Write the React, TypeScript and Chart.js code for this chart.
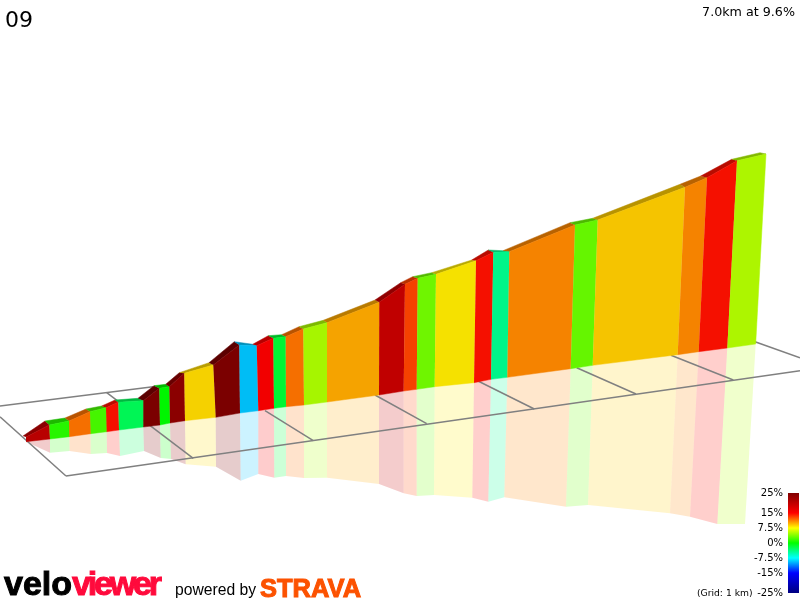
import { useEffect, useRef } from "react"
import { Chart, registerables } from "chart.js"

Chart.register(...registerables)

// gradient of each stretch of the climb, in %
const grades = [20, 1.2, 11.6, 2.1, 14.5, -2.6, 25, 0, 23.7, 8.6, 25, -9.2, 15.2, -1.6, 11.6, 5.1, 10, 19.3, 13, 3.4, 8.1, 14.5, -4.2, 11, 3.1, 9, 11, 14.5, 5.3]

// projected ridge and base of the wall
const frontX = [26, 49.3, 69, 90, 106, 118.3, 143.3, 159.3, 169.3, 184.3, 213.3, 239.3, 256.7, 273.3, 285.7, 303.3, 327, 379.3, 405, 417.7, 436, 476, 493.3, 509.3, 575, 597.7, 685, 707, 737, 766]
const frontY = [437, 425, 421, 411.7, 407.7, 402.3, 400.7, 388.3, 386.7, 373.3, 365, 345, 345.7, 338.3, 336.7, 329, 322.7, 302.3, 284.3, 278.3, 274.3, 260.7, 252.3, 251.7, 225, 220, 187.3, 177.7, 160.7, 154]
const backX = [23, 45, 65, 86, 101.7, 115, 138, 154, 165.7, 179.3, 209, 234.3, 252.7, 268.3, 281.7, 299, 323.3, 375, 400.7, 412.7, 431.7, 471.7, 488.3, 503, 570, 592.7, 680, 700.7, 731.7, 760]
const backY = [436, 421, 418, 409, 406, 400, 398.3, 385.7, 384.3, 372.7, 362.7, 341.7, 344.3, 335.7, 334.7, 326.7, 320.3, 300, 282.7, 276.7, 272.7, 260, 250, 250.7, 222.7, 218.3, 184.3, 176, 159.3, 152.7]
const baseX = [26, 50, 69.3, 90.7, 106.7, 119, 143.3, 160, 170, 185, 215.7, 240, 258.3, 274, 286, 304, 327, 379, 403.7, 416.7, 434.7, 474, 491, 507.3, 570.7, 592.7, 677.7, 698.7, 727.3, 755.7]
const baseY = [441.7, 439, 436.7, 433.7, 431.7, 430, 427, 425, 423, 420.7, 417.3, 413, 410.7, 408.3, 406.7, 405, 402, 395, 391, 389.3, 386.7, 382.7, 379.3, 377.3, 368.7, 365.3, 354.7, 351.7, 348, 344]
const mirrorX = [26, 50, 69.5, 90.7, 107, 120, 144, 160.7, 171, 185.7, 216, 240.7, 258.3, 274.3, 286, 304, 327, 379, 403.7, 416.7, 434, 472.3, 488.3, 504.3, 566, 588, 670, 690, 717.3, 745]
const mirrorY = [441.7, 452.7, 451, 454, 453, 456, 451, 458, 459, 464.3, 466.7, 480.7, 474, 477.7, 476, 478, 477.7, 484, 493.3, 496, 495, 497.7, 501.7, 497.3, 506.7, 505, 513.3, 516.7, 524, 524]

// floor grid, as [x1, y1, x2, y2]
const gridLines = [
  [0, 406, 153, 386.7],
  [0, 416.7, 66, 476],
  [66, 476, 800, 370.7],
  [106.7, 392.7, 193.3, 458.3],
  [265, 410.7, 313.3, 440.7],
  [375, 395, 426.7, 423.7],
  [478, 381, 534.3, 409],
  [576.7, 367.7, 636, 394],
  [671, 355.3, 733.3, 380],
  [755, 341.7, 800, 357.7],
]

// colour key
const keyTicks = [25, 15, 7.5, 0, -7.5, -15, -25]
const keyColours = ["#800000", "#ff0000", "#ffff00", "#00ff00", "#00ffff", "#0000ff", "#000080"]

function gradeRgb(grade: number) {
  const g = Math.max(-25, Math.min(25, grade))
  let i = 0
  while (i < keyTicks.length - 2 && g < keyTicks[i + 1]) i++
  const t = (keyTicks[i] - g) / (keyTicks[i] - keyTicks[i + 1])
  const hex = (c: string, k: number) => parseInt(c.slice(k, k + 2), 16)
  return [1, 3, 5].map((k) => hex(keyColours[i], k) + (hex(keyColours[i + 1], k) - hex(keyColours[i], k)) * t)
}

function rgb(grade: number, shade: number, alpha = 1) {
  const [r, g, b] = gradeRgb(grade).map((v) => Math.round(v * shade))
  return `rgba(${r}, ${g}, ${b}, ${alpha})`
}

function polygon(xs: number[], ys: number[], colour: string, edge = 0) {
  return {
    data: xs.map((x, i) => ({ x, y: ys[i] })),
    showLine: true,
    fill: "shape",
    backgroundColor: colour,
    borderColor: colour,
    borderWidth: edge,
    pointRadius: 0,
  }
}

function buildDatasets() {
  const mirror = grades.map((g, i) =>
    polygon([baseX[i], baseX[i + 1], mirrorX[i + 1], mirrorX[i]], [baseY[i], baseY[i + 1], mirrorY[i + 1], mirrorY[i]], rgb(g, 1, 0.2)),
  )
  const grid = gridLines.map(([x1, y1, x2, y2]) => ({
    data: [{ x: x1, y: y1 }, { x: x2, y: y2 }],
    showLine: true,
    fill: false,
    borderColor: "#808080",
    borderWidth: 1.5,
    pointRadius: 0,
  }))
  const tops = grades.map((g, i) =>
    polygon([backX[i], backX[i + 1], frontX[i + 1], frontX[i]], [backY[i], backY[i + 1], frontY[i + 1], frontY[i]], rgb(g, 0.72), 0.5),
  )
  const walls = grades.map((g, i) =>
    polygon([frontX[i], frontX[i + 1], baseX[i + 1], baseX[i]], [frontY[i], frontY[i + 1], baseY[i + 1], baseY[i]], rgb(g, 0.96), 0.5),
  )
  // chart.js paints the first dataset last
  return [...mirror, ...grid, ...tops, ...walls].reverse()
}

const textBase = { position: "absolute", fontFamily: "'DejaVu Sans', sans-serif", color: "#000", whiteSpace: "nowrap", lineHeight: 1 } as const

export default function App() {
  const profileRef = useRef<HTMLCanvasElement>(null)
  const keyRef = useRef<HTMLCanvasElement>(null)

  useEffect(() => {
    if (!profileRef.current || !keyRef.current) return

    const profile = new Chart(profileRef.current, {
      type: "scatter",
      data: { datasets: buildDatasets() as any },
      options: {
        responsive: false,
        animation: false,
        devicePixelRatio: 1,
        layout: { padding: 0 },
        plugins: { legend: { display: false }, tooltip: { enabled: false } },
        scales: {
          x: { type: "linear", min: 0, max: 800, display: false },
          y: { type: "linear", min: 0, max: 600, reverse: true, display: false },
        },
      },
    })

    const key = new Chart(keyRef.current, {
      type: "bar",
      data: {
        labels: [""],
        datasets: [
          {
            data: [[keyTicks[keyTicks.length - 1], keyTicks[0]]] as any,
            barPercentage: 1,
            categoryPercentage: 1,
            backgroundColor: (ctx: any) => {
              const area = ctx.chart.chartArea
              if (!area) return "#000"
              const scale = ctx.chart.scales.y
              const gradient = ctx.chart.ctx.createLinearGradient(0, area.top, 0, area.bottom)
              keyTicks.forEach((t, i) => gradient.addColorStop((scale.getPixelForValue(t) - area.top) / (area.bottom - area.top), keyColours[i]))
              return gradient
            },
          },
        ],
      },
      options: {
        responsive: false,
        animation: false,
        devicePixelRatio: 1,
        layout: { padding: { top: 13, bottom: 3, left: 0, right: 1 } },
        plugins: { legend: { display: false }, tooltip: { enabled: false } },
        scales: {
          x: { display: false },
          y: {
            type: "linear",
            min: -25,
            max: 25,
            grid: { display: false, tickLength: 0 },
            border: { display: false },
            afterBuildTicks: (axis: any) => {
              axis.ticks = keyTicks.map((value) => ({ value }))
            },
            afterFit: (axis: any) => {
              axis.width = 58
            },
            ticks: {
              padding: 5,
              autoSkip: false,
              color: "#000",
              font: { family: "'DejaVu Sans'", size: 10 },
              callback: (v: any) => `${v}%`,
            },
          },
        },
      },
    })

    return () => {
      profile.destroy()
      key.destroy()
    }
  }, [])

  return (
    <div style={{ position: "fixed", left: 0, top: 0, width: 800, height: 600, background: "#fff", overflow: "hidden" }}>
      <canvas ref={profileRef} width={800} height={600} style={{ position: "absolute", left: 0, top: 0 }} />
      <canvas ref={keyRef} width={70} height={124} style={{ position: "absolute", left: 730, top: 480 }} />
      <div style={{ ...textBase, left: 5, top: 9, fontSize: 22 }}>09</div>
      <div style={{ ...textBase, right: 5, top: 6, fontSize: 12.7 }}>7.0km at 9.6%</div>
      <div style={{ ...textBase, left: 697, top: 588, fontSize: 9.2 }}>(Grid: 1 km)</div>
      <div style={{ ...textBase, left: 4, top: 566, fontFamily: "'Liberation Sans'", fontWeight: 700, fontSize: 34, letterSpacing: 0, WebkitTextStroke: "1px" }}>
        velo<span style={{ color: "#ff0a3c", letterSpacing: -3.2 }}>viewer</span>
      </div>
      <div style={{ ...textBase, left: 175, top: 582, fontFamily: "'Liberation Sans'", fontSize: 15.7 }}>powered by</div>
      <div style={{ ...textBase, left: 260, top: 576, fontFamily: "'Liberation Sans'", fontWeight: 700, fontSize: 25, color: "#fc5200", WebkitTextStroke: "1px #fc5200", transform: "scaleX(1.02)", transformOrigin: "left" }}>STRAVA</div>
    </div>
  )
}
